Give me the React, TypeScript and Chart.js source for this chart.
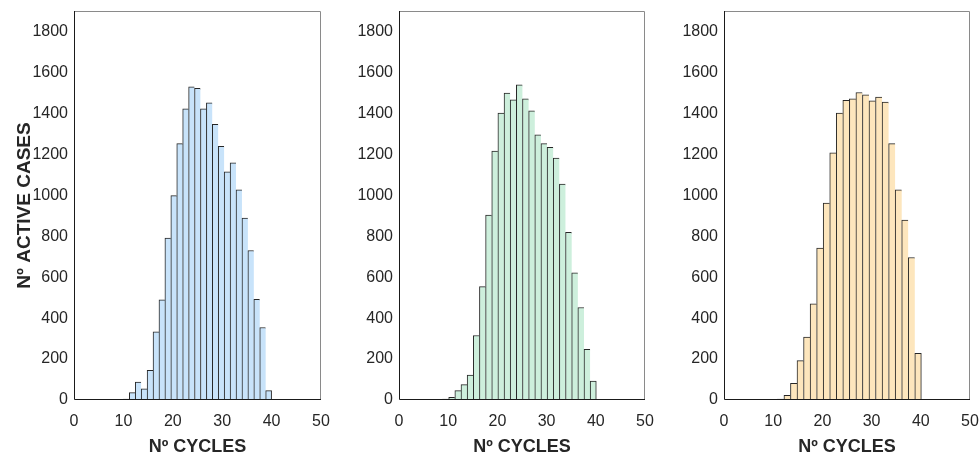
import React, { useEffect, useRef } from "react";
import { Chart, registerables } from "chart.js";

Chart.register(...registerables);

// ---- Data ----
const xTickValues = [0, 10, 20, 30, 40, 50];
const yMax = 1900;
const yStep = 200;

// Panel 1 (blue)
const binStart1 = 10;
const binWidth1 = 1.2;
const counts1 = [5, 36, 88, 54, 145, 333, 489, 791, 998, 1252, 1422, 1530, 1522, 1422, 1451, 1347, 1239, 1115, 1158, 1026, 889, 730, 492, 354, 46];

// Panel 2 (green)
const binStart2 = 8.85;
const binWidth2 = 1.25;
const counts2 = [5, 13, 46, 75, 122, 315, 554, 903, 1216, 1401, 1499, 1466, 1539, 1471, 1412, 1295, 1252, 1234, 1182, 1055, 819, 621, 452, 248, 93];

// Panel 3 (orange)
const binStart3 = 10.85;
const binWidth3 = 1.33;
const counts3 = [5, 23, 82, 192, 307, 470, 742, 962, 1207, 1401, 1464, 1471, 1502, 1490, 1461, 1479, 1455, 1252, 1026, 879, 696, 228];

const xTitle = "Nº CYCLES";
const yTitle = "Nº ACTIVE CASES";

const FONT = "'Liberation Sans', Arial, Helvetica, sans-serif";
const TEXT = "#262626";

const framePlugin = {
  id: "frame",
  afterDatasetsDraw(chart: any) {
    const { ctx, chartArea: a } = chart;
    ctx.save();
    ctx.lineWidth = 1;
    ctx.strokeStyle = "#8a8a8a";
    ctx.beginPath();
    ctx.moveTo(Math.round(a.left), Math.round(a.top) + 0.5);
    ctx.lineTo(Math.round(a.right) - 0.5, Math.round(a.top) + 0.5);
    ctx.lineTo(Math.round(a.right) - 0.5, Math.round(a.bottom));
    ctx.stroke();
    ctx.strokeStyle = "#1a1a1a";
    ctx.beginPath();
    ctx.moveTo(Math.round(a.left) + 0.5, Math.round(a.top));
    ctx.lineTo(Math.round(a.left) + 0.5, Math.round(a.bottom) - 0.5);
    ctx.lineTo(Math.round(a.right), Math.round(a.bottom) - 0.5);
    ctx.stroke();
    ctx.restore();
  },
};

type PanelProps = {
  left: number;
  width: number;
  yWidth: number;
  padRight: number;
  start: number;
  binW: number;
  counts: number[];
  color: string;
  showYTitle: boolean;
};

function Panel({ left, width, yWidth, padRight, start, binW, counts, color, showYTitle }: PanelProps) {
  const ref = useRef<HTMLCanvasElement>(null);
  useEffect(() => {
    if (!ref.current) return;
    const data = counts.map((c, i) => ({ x: start + binW * (i + 0.5), y: c }));
    const last = counts.length - 1;
    const chart = new Chart(ref.current, {
      type: "bar",
      data: {
        datasets: [
          {
            data: data as any,
            backgroundColor: color,
            borderColor: "#262626",
            borderWidth: ((ctx: any) => ({
              top: 1,
              left: 1,
              right: ctx.dataIndex === last ? 1 : 0,
              bottom: 0,
            })) as any,
            borderSkipped: false,
            barPercentage: 1,
            categoryPercentage: 1,
          },
        ],
      },
      options: {
        responsive: false,
        animation: false,
        devicePixelRatio: 1,
        layout: { padding: { top: 11, right: padRight, left: 0, bottom: 0 } },
        plugins: { legend: { display: false }, tooltip: { enabled: false } },
        scales: {
          x: {
            type: "linear",
            min: 0,
            max: 50,
            offset: false,
            grid: { display: false, drawTicks: false },
            border: { display: false },
            ticks: {
              stepSize: 10,
              autoSkip: false,
              maxRotation: 0,
              padding: 12,
              color: TEXT,
              font: { family: FONT, size: 16 },
              callback: (v: any) => (xTickValues.includes(Number(v)) ? String(v) : ""),
            },
            title: {
              display: true,
              text: xTitle,
              color: TEXT,
              font: { family: FONT, size: 18, weight: "bold" },
              padding: { top: 0, bottom: 0 },
            },
            afterFit(s: any) {
              s.height = 58;
              s.paddingLeft = 0;
              s.paddingRight = 0;
            },
          } as any,
          y: {
            min: 0,
            max: yMax,
            grid: { display: false, drawTicks: false },
            border: { display: false },
            ticks: {
              stepSize: yStep,
              includeBounds: false,
              padding: 6,
              color: TEXT,
              font: { family: FONT, size: 16 },
              callback: (v: any) => String(v),
            },
            title: {
              display: showYTitle,
              text: yTitle,
              color: TEXT,
              font: { family: FONT, size: 19, weight: "bold" },
              padding: { top: 13, bottom: 0 },
            },
            afterFit(s: any) {
              s.width = yWidth;
              s.paddingTop = 0;
              s.paddingBottom = 0;
            },
          } as any,
        },
      },
      plugins: [framePlugin],
    });
    return () => chart.destroy();
  }, []);
  return (
    <canvas
      ref={ref}
      width={width}
      height={458}
      style={{ position: "absolute", left, top: 0, width, height: 458 }}
    />
  );
}

export default function App() {
  return (
    <div style={{ position: "absolute", left: 0, top: 0, width: 979, height: 458, background: "#fff" }}>
      <Panel left={0} width={330} yWidth={74} padRight={9} start={binStart1} binW={binWidth1} counts={counts1} color="#c8e3fa" showYTitle={true} />
      <Panel left={330} width={325} yWidth={69} padRight={10} start={binStart2} binW={binWidth2} counts={counts2} color="#cdefdc" showYTitle={false} />
      <Panel left={655} width={324} yWidth={69} padRight={9} start={binStart3} binW={binWidth3} counts={counts3} color="#fde6bd" showYTitle={false} />
    </div>
  );
}
